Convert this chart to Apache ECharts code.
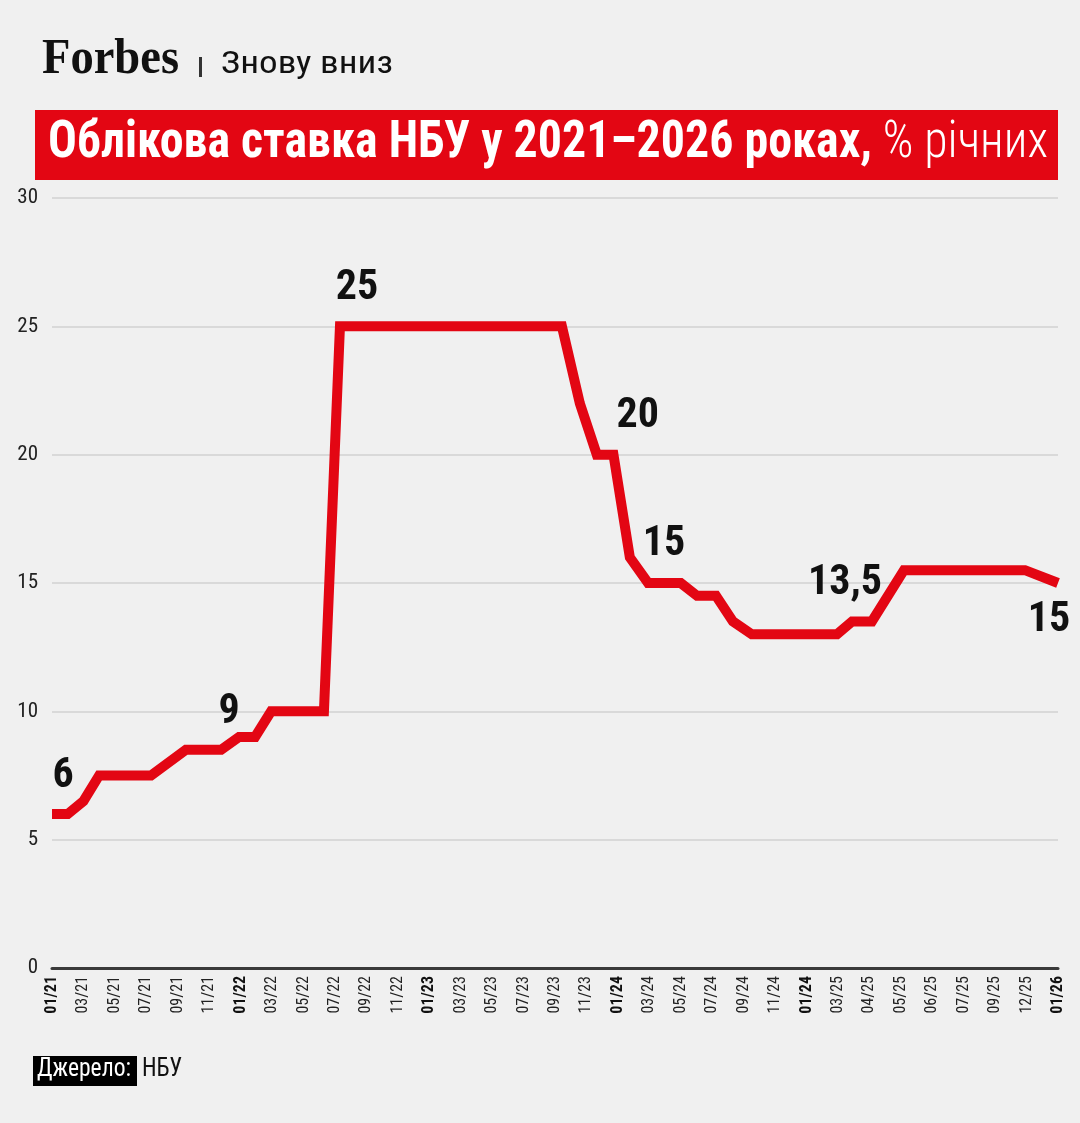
<!DOCTYPE html>
<html lang="uk">
<head>
<meta charset="UTF-8">
<title>Облікова ставка НБУ</title>
<script src="https://cdn.jsdelivr.net/npm/echarts@6.0.0/dist/echarts.min.js"></script>
<style>
    html, body { margin: 0; padding: 0; background: #f0f0f0; }
    #chart { width: 1080px; height: 1123px; }
</style>
</head>
<body>
<div id="chart"></div>
<script>
    // підписи осі X (рівномірні слоти)
    const xLabels = ['01/21', '03/21', '05/21', '07/21', '09/21', '11/21', '01/22', '03/22', '05/22',
        '07/22', '09/22', '11/22', '01/23', '03/23', '05/23', '07/23', '09/23', '11/23', '01/24',
        '03/24', '05/24', '07/24', '09/24', '11/24', '01/24', '03/25', '04/25', '05/25', '06/25',
        '07/25', '09/25', '12/25', '01/26'];
    const boldSlots = [0, 6, 12, 18, 24, 32];

    // вершини лінії: позиція в слотах осі X та ставка, %
    const ratePos = [0, 0.5, 1.0, 1.5, 3.15, 4.26, 5.38, 5.95, 6.46, 6.97, 8.65, 9.16, 16.22, 16.79,
        17.33, 17.86, 18.38, 18.96, 20.0, 20.52, 21.12, 21.66, 22.26, 24.97, 25.45, 26.08, 27.1, 30.95, 32];
    const rateValues = [6, 6, 6.5, 7.5, 7.5, 8.5, 8.5, 9, 9, 10, 10, 25, 25, 22,
        20, 20, 16, 15, 15, 14.5, 14.5, 13.5, 13, 13, 13.5, 13.5, 15.5, 15.5, 15];

    // точки з підписами
    const noteIdx = [0, 7, 11, 14, 17, 24, 28];

    const yMin = 0, yMax = 30, yStep = 5;

    // ---- шрифти ----
    const mctx = document.createElement('canvas').getContext('2d');
    function textWidth(font, s) { mctx.font = font; return mctx.measureText(s).width; }
    const FF = 'Roboto';
    const COND = ' condensed';

    // зсуви підписів відносно вершин (px)
    const noteOffset = {
        0: [11, -38], 7: [-10, -25], 11: [17, -38], 14: [41, -38],
        17: [16, -39], 24: [-7, -38], 28: [-9, 37]
    };

    const lineData = ratePos.map(function (x, i) {
        const item = { value: [x, rateValues[i]] };
        if (noteIdx.indexOf(i) >= 0) {
            item.label = {
                show: true,
                position: 'inside',
                offset: noteOffset[i],
                formatter: String(rateValues[i]).replace('.', ',')
            };
        }
        return item;
    });

    // ---- шапка ----
    const titleBold = 'Облікова ставка НБУ у 2021–2026 роках,';
    const titleLight = ' % річних';
    const fB = 'bold' + COND + ' 52px ' + FF;
    const fL = '300' + COND + ' 52px ' + FF;
    const wB = textWidth(fB, titleBold), wL = textWidth(fL, titleLight);
    const tScale = 1000 / (wB + wL);

    const fLogo = 'bold 50px "Liberation Serif"';
    const logoScale = 137 / textWidth(fLogo, 'Forbes');
    const fSub = 'normal' + COND + ' 31px ' + FF;
    const subScale = 172 / textWidth(fSub, 'Знову вниз');
    const fSrc = 'normal' + COND + ' 25px ' + FF;
    const srcScale = 94 / textWidth(fSrc, 'Джерело:');

    const graphics = [
        { type: 'text', x: 42, y: 60, scaleX: logoScale,
          style: { text: 'Forbes', font: fLogo, fill: '#111', verticalAlign: 'middle' } },
        { type: 'rect', shape: { x: 199, y: 57, width: 3, height: 20 }, style: { fill: '#333' } },
        { type: 'text', x: 221, y: 65, scaleX: subScale,
          style: { text: 'Знову вниз', font: fSub, fill: '#111', verticalAlign: 'middle' } },
        { type: 'rect', shape: { x: 35, y: 110, width: 1023, height: 70 }, style: { fill: '#e30613' } },
        { type: 'text', x: 48, y: 144, scaleX: tScale,
          style: { text: titleBold, font: fB, fill: '#fff', verticalAlign: 'middle' } },
        { type: 'text', x: 48 + wB * tScale, y: 144, scaleX: tScale,
          style: { text: titleLight, font: fL, fill: '#fff', verticalAlign: 'middle' } },
        { type: 'rect', shape: { x: 33, y: 1056, width: 104, height: 30 }, style: { fill: '#000' } },
        { type: 'text', x: 37, y: 1070, scaleX: srcScale,
          style: { text: 'Джерело:', font: fSrc, fill: '#fff', verticalAlign: 'middle' } },
        { type: 'text', x: 142, y: 1070, scaleX: srcScale,
          style: { text: 'НБУ', font: fSrc, fill: '#111', verticalAlign: 'middle' } }
    ];

    const chart = echarts.init(document.getElementById('chart'), null, { renderer: 'canvas' });
    chart.setOption({
        backgroundColor: '#f0f0f0',
        animation: false,
        textStyle: { fontFamily: FF },
        grid: { left: 52, right: 22, top: 198, bottom: 155, containLabel: false, outerBoundsMode: 'none' },
        xAxis: {
            type: 'value',
            min: 0, max: xLabels.length - 1, interval: 1,
            axisLine: { show: true, lineStyle: { color: '#3a3a3a', width: 3 } },
            axisTick: { show: false },
            splitLine: { show: false },
            axisLabel: {
                rotate: 90, margin: 8,
                showMinLabel: true, showMaxLabel: true,
                fontSize: 16, color: '#222', fontFamily: FF, fontWeight: 'normal' + COND,
                formatter: function (v) {
                    const l = xLabels[v];
                    if (l === undefined) return '';
                    return boldSlots.indexOf(v) >= 0 ? '{b|' + l + '}' : l;
                },
                rich: { b: { fontSize: 16, color: '#111', fontFamily: FF, fontWeight: 'bold' + COND } }
            }
        },
        yAxis: {
            type: 'value',
            min: yMin, max: yMax, interval: yStep,
            axisLine: { show: false },
            axisTick: { show: false },
            splitLine: { show: true, lineStyle: { color: '#d2d2d2', width: 1.5 } },
            axisLabel: { margin: 14, fontSize: 21, color: '#222', fontFamily: FF, fontWeight: 'normal' + COND }
        },
        series: [{
            type: 'line',
            data: lineData,
            showSymbol: true,
            symbol: 'circle',
            symbolSize: 1,
            itemStyle: { color: 'rgba(0,0,0,0)' },
            lineStyle: { color: '#e30613', width: 10, join: 'miter', cap: 'butt' },
            label: {
                fontSize: 42, fontWeight: 'bold' + COND, fontFamily: FF, color: '#111',
                align: 'center', verticalAlign: 'middle'
            },
            emphasis: { disabled: true }
        }],
        graphic: graphics
    });
</script>
</body>
</html>
